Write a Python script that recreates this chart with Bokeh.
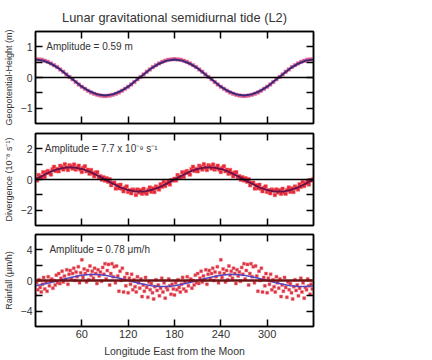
from bokeh.plotting import figure
from bokeh.models import Span, Label, LinearAxis, FixedTicker, Range1d
from bokeh.layouts import column
from bokeh.embed import file_html
from bokeh.resources import INLINE

title_text = "Lunar gravitational semidiurnal tide (L2)"
x_label = "Longitude East from the Moon"
x_ticks = [60, 120, 180, 240, 300]

# ---- Geopotential height (m): observed points every 4 deg over half a lunar day (repeats)
geo_half = [0.60, 0.59, 0.58, 0.55, 0.51, 0.46, 0.40, 0.34, 0.26, 0.19, 0.10, 0.02,
            -0.06, -0.15, -0.23, -0.30, -0.37, -0.43, -0.49, -0.53, -0.56, -0.59, -0.60,
            -0.60, -0.59, -0.56, -0.53, -0.49, -0.43, -0.37, -0.30, -0.23, -0.15, -0.06,
            0.02, 0.10, 0.19, 0.26, 0.34, 0.40, 0.46, 0.51, 0.55, 0.58, 0.59]
geo_lon = list(range(0, 361, 4))
geo_vals = geo_half + geo_half + [geo_half[0]]

# fitted curves sampled every 10 deg
fit_lon = list(range(0, 361, 10))
geo_fit_half = [0.59, 0.55, 0.45, 0.30, 0.10, -0.10, -0.30, -0.45, -0.55,
                -0.59, -0.55, -0.45, -0.30, -0.10, 0.10, 0.30, 0.45, 0.55]
geo_fit = geo_fit_half + geo_fit_half + [geo_fit_half[0]]

# ---- Divergence (1e-8 s^-1): points every 2 deg
div_half = [0.05, -0.06, 0.29, 0.19, 0.14, 0.48, 0.18, 0.47, 0.56, 0.43, 0.32, 0.67,
            0.83, 0.56, 0.69, 0.53, 0.89, 0.82, 0.65, 1.00, 0.77, 0.62, 0.93, 0.86,
            0.71, 0.98, 0.65, 0.77, 0.90, 0.66, 0.49, 0.76, 0.86, 0.54, 0.63, 0.37,
            0.62, 0.41, 0.21, 0.45, 0.47, 0.14, 0.21, -0.01, 0.15,
            -0.07, 0.08, -0.14, 0.02, -0.37, -0.21, -0.21, -0.59, -0.38, -0.57, -0.34,
            -0.61, -0.77, -0.54, -0.45, -0.81, -0.70, -0.90, -0.65, -0.71, -1.01, -0.65,
            -0.84, -0.70, -0.93, -0.61, -0.86, -0.93, -0.69, -0.52, -0.80, -0.58, -0.82,
            -0.46, -0.55, -0.65, -0.31, -0.48, -0.16, -0.42, -0.24, -0.10, -0.32, -0.04,
            -0.06]
div_lon = list(range(0, 360, 2)) + [360]
div_vals = div_half + div_half + [div_half[0]]
div_fit_half = [0.00, 0.27, 0.51, 0.69, 0.79, 0.79, 0.69, 0.51, 0.27,
                0.00, -0.27, -0.51, -0.69, -0.79, -0.79, -0.69, -0.51, -0.27]
div_fit = div_fit_half + div_fit_half + [div_fit_half[0]]

# ---- Rainfall (um/h): points every 1.5 deg
rain_half = [-1.9, -0.3, -1.2, 0.1, -0.9, -1.5, -0.5, 0.4, -1.1, -0.2,
             -1.4, 0.5, -0.7, -0.1, 0.2, -1.0, 0.0, -0.6, 0.7, -0.3,
             0.9, -0.4, 0.3, 1.2, -0.2, 0.6, 0.1, 1.4, -0.5, 0.8,
             1.3, 0.2, 0.9, 1.6, 0.0, 1.1, 0.5, 1.8, -0.3, 1.0,
             2.7, 0.4, 1.5, 0.9, -0.2, 1.3, 0.1, 1.9, 0.7, 1.2,
             0.3, 1.6, 0.9, -0.4, 1.4, 0.6, 1.1, -0.1, 1.7, 0.8,
             2.2, 0.2, 1.3, 2.1, -0.6, 0.9, 2.2, 0.5, 1.8, -0.3,
             1.9, 0.6, -1.4, 1.2, 0.0, 1.6, -1.5, 0.4, -0.7, 0.9,
             -1.6, 0.3, -0.5, 0.8, -1.2, 0.1, -0.8, -1.5, 0.5, -0.3,
             -1.0, 0.2, -2.1, -0.6, -1.4, 0.4, -0.9, -2.2, -0.2, -1.2,
             -0.4, -1.6, -2.4, -0.8, 0.1, -1.3, -0.6, -2.0, -1.0, 0.3,
             -1.5, -0.3, -2.3, -0.9, -1.2, 0.2, -0.7, -1.8, -0.5, -1.1]
rain_lon = [i * 1.5 for i in range(240)]
rain_vals = rain_half + rain_half
rain_fit_half = [-0.68, -0.50, -0.27, 0.00, 0.27, 0.50, 0.68, 0.77, 0.77,
                 0.68, 0.50, 0.27, 0.00, -0.27, -0.50, -0.68, -0.77, -0.77]
rain_fit = rain_fit_half + rain_fit_half + [rain_fit_half[0]]

FONT = "Liberation Sans"
TXT = "#333333"


def style_axis(ax, ticks, show_labels, size="10.5px"):
    ax.major_tick_in = 7
    ax.major_tick_out = 0
    ax.minor_tick_in = 7
    ax.minor_tick_out = 0
    ax.major_tick_line_color = "black"
    ax.minor_tick_line_color = "black"
    ax.major_tick_line_width = 1.5
    ax.minor_tick_line_width = 1.5
    ax.axis_line_color = "black"
    ax.axis_line_width = 1.5
    if show_labels:
        ax.major_label_text_font_size = size
        ax.major_label_text_font = FONT
        ax.major_label_text_color = TXT
        ax.major_label_standoff = 3
    else:
        ax.major_label_overrides = {t: "" for t in ticks}
        ax.major_label_text_font_size = "1px"
        ax.major_label_standoff = 0


def panel(ylim, yticks, yminor, ylabel, top, bottom, show_x):
    p = figure(frame_width=278, frame_height=92,
               x_range=Range1d(0, 360), y_range=Range1d(-ylim, ylim),
               output_backend="svg", toolbar_location=None,
               min_border_left=26, min_border_right=6,
               min_border_top=top, min_border_bottom=bottom)
    p.xgrid.visible = False
    p.ygrid.visible = False
    p.outline_line_color = "black"
    p.outline_line_width = 1.5
    p.background_fill_color = "white"
    p.border_fill_color = "white"

    yax = p.yaxis[0]
    yax.ticker = FixedTicker(ticks=yticks, minor_ticks=yminor)
    style_axis(yax, yticks, True)
    yax.axis_label = ylabel
    yax.axis_label_text_font = FONT
    yax.axis_label_text_font_size = "9px"
    yax.axis_label_text_font_style = "normal"
    yax.axis_label_text_color = TXT
    yax.axis_label_standoff = 4

    xax = p.xaxis[0]
    xax.ticker = FixedTicker(ticks=x_ticks, minor_ticks=[])
    style_axis(xax, x_ticks, show_x, "11px")
    if show_x:
        xax.axis_label = x_label
        xax.axis_label_text_font = FONT
        xax.axis_label_text_font_size = "10.5px"
        xax.axis_label_text_font_style = "normal"
        xax.axis_label_text_color = TXT
        xax.axis_label_standoff = 4

    rax = LinearAxis(ticker=FixedTicker(ticks=yticks, minor_ticks=yminor))
    style_axis(rax, yticks, False)
    p.add_layout(rax, "right")
    tax = LinearAxis(ticker=FixedTicker(ticks=x_ticks, minor_ticks=[]))
    style_axis(tax, x_ticks, False)
    p.add_layout(tax, "above")
    return p


p1 = panel(1.5, [-1, 0, 1], [-0.5, 0.5], "Geopotential-Height (m)", 23, 5, False)
p1.title.text = title_text
p1.title.align = "center"
p1.title.text_font = FONT
p1.title.text_font_size = "12.8px"
p1.title.text_font_style = "normal"
p1.title.text_color = TXT
p1.title.standoff = 14
p1.add_layout(Span(location=0, dimension="width", line_color="black", line_width=1.5))
p1.scatter(geo_lon, geo_vals, marker="square", size=3.5, fill_color="#e0508a",
           line_color="#e07aa0", line_width=0.5)
p1.line(fit_lon, geo_fit, line_color="#3a2878", line_width=2)
p1.add_layout(Label(x=14, y=1, text="Amplitude = 0.59 m", text_font=FONT,
                    text_font_size="10px", text_color=TXT, text_baseline="middle"))

p2 = panel(3, [-2, 0, 2], [-1, 1], "Divergence (10\u207b\u2078 s\u207b\u00b9)", 5, 4, False)
p2.scatter(div_lon, div_vals, marker="square", size=3.5, fill_color="#e8262f",
           line_color="#f06070", line_width=0.5)
p2.line(fit_lon, div_fit, line_color="#6b1048", line_width=2)
p2.add_layout(Span(location=0, dimension="width", line_color="black", line_width=1.5))
p2.add_layout(Label(x=12, y=2, text="Amplitude = 7.7 x 10\u207b\u2079 s\u207b\u00b9",
                    text_font=FONT, text_font_size="10px", text_color=TXT,
                    text_baseline="middle"))

p3 = panel(6, [-4, 0, 4], [-2, 2], "Rainfall (\u03bcm/h)", 5, 32, True)
p3.add_layout(Span(location=0, dimension="width", line_color="#6e1414", line_width=2.5))
p3.scatter(rain_lon, rain_vals, marker="square", size=3, fill_color="#d8323a",
           line_color="#f07080", line_width=0.5)
p3.line(fit_lon, rain_fit, line_color="#5545c0", line_width=1.5)
p3.add_layout(Label(x=18, y=4, text="Amplitude = 0.78 \u03bcm/h", text_font=FONT,
                    text_font_size="10px", text_color=TXT, text_baseline="middle"))

layout = column(p1, p2, p3, spacing=0)
open("out.html", "w").write(file_html(layout, INLINE))
